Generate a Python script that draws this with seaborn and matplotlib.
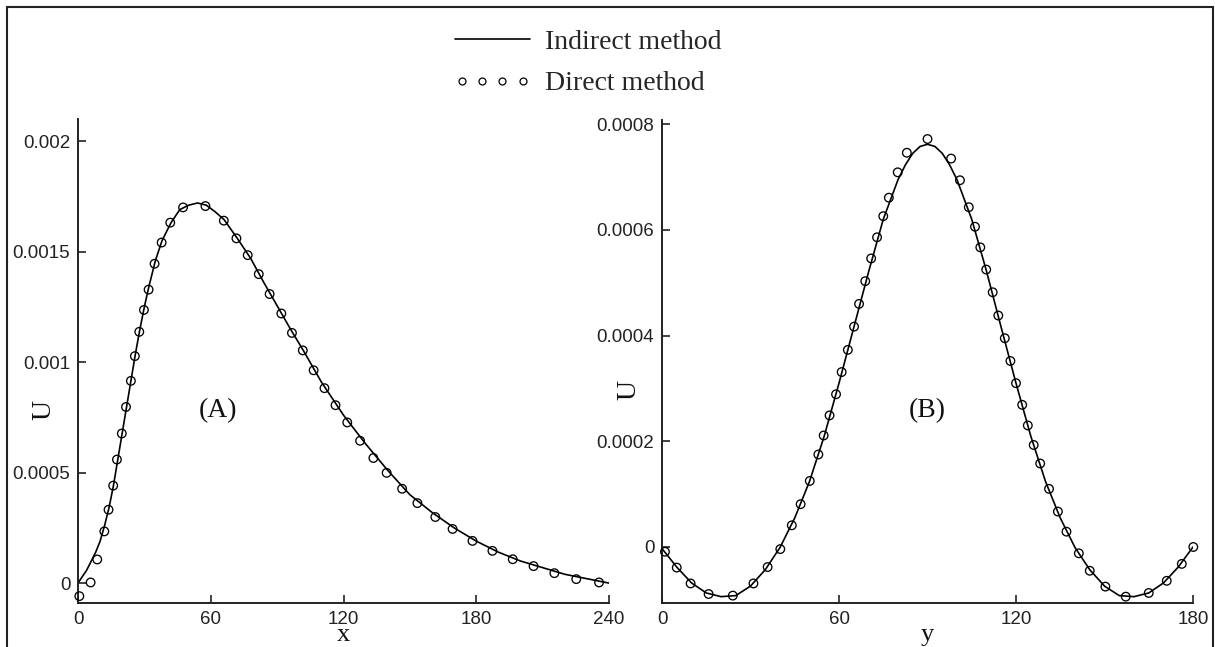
import matplotlib
matplotlib.use("Agg")
import matplotlib.pyplot as plt
import seaborn as sns
from matplotlib.lines import Line2D
from matplotlib.legend_handler import HandlerLine2D

# ---- data ----
# (A) U along x
x_line = [0, 4, 8, 10, 12, 14, 16, 18, 20, 22, 24, 26, 28, 30, 32, 35, 38, 42, 46, 50,
          54, 58, 62, 66, 72, 78, 84, 90, 96, 102, 110, 120, 130, 140, 150, 160, 170,
          180, 190, 200, 210, 220, 230, 240]
u_line_x = [0.0, 0.00006, 0.00014, 0.00019, 0.00026, 0.00034, 0.00044, 0.00056, 0.00068,
            0.00080, 0.00092, 0.00104, 0.00115, 0.00125, 0.00134, 0.00146, 0.00155,
            0.00163, 0.00169, 0.00171, 0.00172, 0.00171, 0.00168, 0.001645, 0.00156,
            0.00147, 0.00136, 0.001255, 0.00115, 0.00105, 0.00091, 0.00076, 0.00063,
            0.00051, 0.00040, 0.00032, 0.00025, 0.00019, 0.00014, 0.00010, 0.00007,
            0.00004, 0.00002, 0.0]
x_pts = [0.6, 5.7, 8.7, 11.9, 13.8, 15.9, 17.6, 19.8, 21.7, 23.9, 25.7, 27.7, 29.8, 31.9,
         34.6, 37.8, 41.7, 47.5, 57.6, 65.9, 71.6, 76.7, 81.7, 86.6, 91.9, 96.7, 101.6,
         106.5, 111.4, 116.4, 121.7, 127.5, 133.5, 139.5, 146.5, 153.4, 161.5, 169.3,
         178.3, 187.3, 196.5, 205.9, 215.3, 225.2, 235.5]
u_pts_x = [-0.000059, 0.000003, 0.000107, 0.000234, 0.000332, 0.000441, 0.000559, 0.000677,
           0.000797, 0.000915, 0.001027, 0.001137, 0.001236, 0.001328, 0.001445, 0.001541,
           0.001631, 0.0017, 0.001706, 0.00164, 0.00156, 0.001484, 0.001398, 0.001308,
           0.00122, 0.001132, 0.001053, 0.000963, 0.000882, 0.000805, 0.000727, 0.000644,
           0.000566, 0.000499, 0.000427, 0.000362, 0.000299, 0.000245, 0.000191, 0.000146,
           0.000108, 0.000077, 0.000045, 0.000018, 0.000003]

# (B) U along y
y_line = [0, 5, 10, 15, 20, 25, 30, 35, 40, 45, 50, 55, 60, 65, 70, 75, 80, 82.5, 85,
          87.5, 90, 92.5, 95, 97.5, 100, 105, 110, 115, 120, 125, 130, 135, 140, 145, 150,
          155, 160, 165, 170, 175, 180]
u_line_y = [-0.03e-4, -0.38e-4, -0.68e-4, -0.87e-4, -0.94e-4, -0.92e-4, -0.74e-4, -0.43e-4,
            -0.01e-4, 0.55e-4, 1.24e-4, 2.10e-4, 3.10e-4, 4.15e-4, 5.20e-4, 6.20e-4, 6.95e-4,
            7.23e-4, 7.45e-4, 7.58e-4, 7.62e-4, 7.58e-4, 7.45e-4, 7.23e-4, 6.95e-4, 6.20e-4,
            5.22e-4, 4.15e-4, 3.10e-4, 2.10e-4, 1.24e-4, 0.55e-4, -0.01e-4, -0.43e-4,
            -0.74e-4, -0.92e-4, -0.94e-4, -0.87e-4, -0.68e-4, -0.38e-4, 0.0]
y_pts = [1.0, 5.0, 9.7, 15.8, 24.0, 31.0, 35.8, 40.1, 44.0, 47.0, 50.1, 53.0, 54.8, 56.8,
         59.0, 60.9, 63.0, 65.1, 66.8, 68.9, 70.9, 72.9, 75.0, 76.9, 79.9, 83.0, 90.0, 98.0,
         101.0, 104.0, 106.1, 107.9, 109.9, 112.1, 114.0, 116.2, 118.1, 120.0, 122.1, 124.0,
         126.0, 128.2, 131.2, 134.2, 137.1, 141.3, 145.0, 150.3, 157.2, 165.0, 171.1, 176.2,
         180.1]
u_pts_y = [-0.09e-4, -0.39e-4, -0.69e-4, -0.89e-4, -0.92e-4, -0.69e-4, -0.38e-4, -0.04e-4,
           0.41e-4, 0.81e-4, 1.25e-4, 1.75e-4, 2.11e-4, 2.49e-4, 2.89e-4, 3.31e-4, 3.73e-4,
           4.17e-4, 4.60e-4, 5.03e-4, 5.46e-4, 5.86e-4, 6.26e-4, 6.61e-4, 7.09e-4, 7.46e-4,
           7.72e-4, 7.35e-4, 6.94e-4, 6.43e-4, 6.06e-4, 5.67e-4, 5.25e-4, 4.82e-4, 4.38e-4,
           3.95e-4, 3.52e-4, 3.10e-4, 2.69e-4, 2.30e-4, 1.93e-4, 1.58e-4, 1.10e-4, 0.67e-4,
           0.29e-4, -0.12e-4, -0.45e-4, -0.75e-4, -0.94e-4, -0.87e-4, -0.64e-4, -0.32e-4, 0.0]

xticks_a = [0, 60, 120, 180, 240]
yticks_a = [0, 0.0005, 0.001, 0.0015, 0.002]
yticklabels_a = ["0", "0.0005", "0.001", "0.0015", "0.002"]
xticks_b = [0, 60, 120, 180]
yticks_b = [0, 0.0002, 0.0004, 0.0006, 0.0008]
yticklabels_b = ["0", "0.0002", "0.0004", "0.0006", "0.0008"]

sns.set_theme(style="ticks")
plt.rcParams["font.family"] = ["Liberation Sans", "DejaVu Sans"]
SERIF = ["Liberation Serif", "DejaVu Serif"]

fig = plt.figure(figsize=(12.15, 6.47), dpi=100)
ax_a = fig.add_axes([78 / 1215, 44 / 647, 531 / 1215, 484 / 647])
ax_b = fig.add_axes([662 / 1215, 44 / 647, 531 / 1215, 483 / 647])


def draw_panel(ax, xl, ul, xp, up, xlabel, tag, ulab_pos):
    sns.lineplot(x=xl, y=ul, ax=ax, color="black", linewidth=1.2, sort=False)
    sns.scatterplot(x=xp, y=up, ax=ax, marker="o", s=38, facecolors="none",
                    edgecolor="black", linewidth=0.95, zorder=3, clip_on=False)
    sns.despine(ax=ax)
    for side in ["left", "bottom"]:
        ax.spines[side].set_linewidth(1.4)
        ax.spines[side].set_color("#222222")
    ax.tick_params(direction="in", length=6, width=1.2, labelsize=13.5,
                   colors="#222222", pad=5.5)
    ax.set_xlabel(xlabel, family=SERIF, fontsize=19, labelpad=-2.5, color="#111111")
    ax.set_ylabel("U", family=SERIF, fontsize=20, color="#111111")
    ax.yaxis.label.set_verticalalignment("center")
    ax.yaxis.set_label_coords(ulab_pos[0], ulab_pos[1])
    ax.text(tag[0], tag[1], tag[2], transform=ax.transAxes, family=SERIF, fontsize=20,
            ha="center", va="center", color="#111111")
    ax.set_facecolor("white")


draw_panel(ax_a, x_line, u_line_x, x_pts, u_pts_x, "x", (0.2637, 0.398, "(A)"), (-0.064, 0.399))
ax_a.set_xlim(0, 240)
ax_a.set_ylim(-0.00009, 0.0021)
ax_a.set_xticks(xticks_a)
ax_a.set_yticks(yticks_a)
ax_a.set_yticklabels(yticklabels_a)

draw_panel(ax_b, y_line, u_line_y, y_pts, u_pts_y, "y", (0.499, 0.398, "(B)"), (-0.062, 0.44))
ax_b.set_xlim(0, 180)
ax_b.set_ylim(-0.000106, 0.000808)
ax_b.set_xticks(xticks_b)
ax_b.set_yticks(yticks_b)
ax_b.set_yticklabels(yticklabels_b)

h_line = Line2D([], [], color="black", linewidth=1.2)
h_pts = Line2D([], [], linestyle="none", marker="o", markersize=5.0,
               markerfacecolor="none", markeredgecolor="black", markeredgewidth=0.9)
fig.legend([h_line, h_pts], ["Indirect method", "Direct method"], loc="center",
           bbox_to_anchor=(588 / 1215, 1 - 63 / 647), frameon=False,
           handler_map={h_line: HandlerLine2D(numpoints=1),
                        h_pts: HandlerLine2D(numpoints=4, marker_pad=0.25)},
           handlelength=2.7, handletextpad=0.55, labelspacing=0.58,
           prop={"family": SERIF, "size": 20})

# thin frame around the picture (left, top, right)
frame = dict(color="#222222", linewidth=1.5, transform=fig.transFigure)
fig.add_artist(Line2D([7 / 1215, 7 / 1215], [0, 1 - 7 / 647], **frame))
fig.add_artist(Line2D([7 / 1215, 1213 / 1215], [1 - 7 / 647, 1 - 7 / 647], **frame))
fig.add_artist(Line2D([1213 / 1215, 1213 / 1215], [0, 1 - 7 / 647], **frame))

fig.savefig("out.png", dpi=100, facecolor="white")
